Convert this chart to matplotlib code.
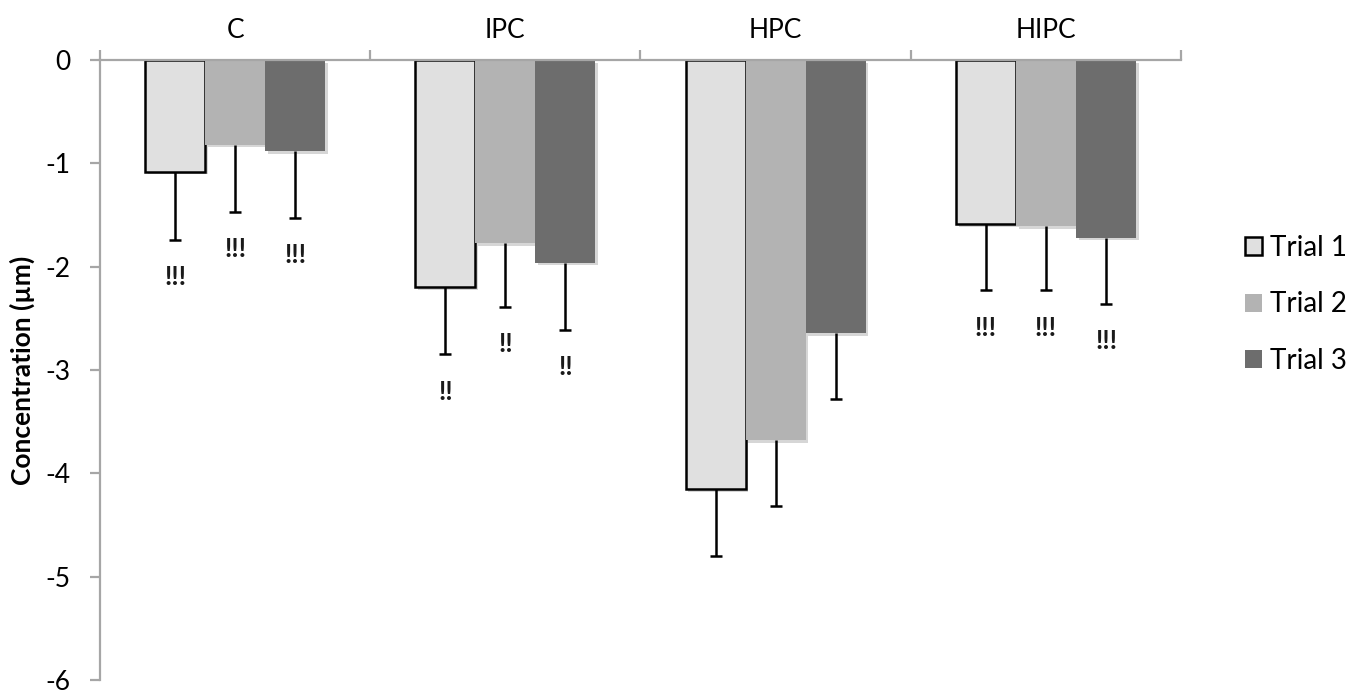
import matplotlib
matplotlib.use("Agg")
import matplotlib.pyplot as plt
import matplotlib.patheffects as pe
from matplotlib.patches import Patch
import numpy as np

plt.rcParams['font.family'] = ['Lato', 'DejaVu Sans']

categories = ["C", "IPC", "HPC", "HIPC"]
series_names = ["Trial 1", "Trial 2", "Trial 3"]
trial1 = [-1.08, -2.20, -4.15, -1.59]
trial2 = [-0.82, -1.77, -3.68, -1.61]
trial3 = [-0.88, -1.96, -2.64, -1.72]
err1 = [0.66, 0.65, 0.65, 0.64]
err2 = [0.65, 0.62, 0.64, 0.62]
err3 = [0.65, 0.65, 0.64, 0.64]
marks1 = ["!!!", "!!", "", "!!!"]
marks2 = ["!!!", "!!", "", "!!!"]
marks3 = ["!!!", "!!", "", "!!!"]
yticks = [0, -1, -2, -3, -4, -5, -6]

values = [trial1, trial2, trial3]
errors = [err1, err2, err3]
marks = [marks1, marks2, marks3]
faces = ["#e0e0e0", "#b3b3b3", "#6d6d6d"]
edges = ["black", "none", "none"]
axis_grey = "#a6a6a6"

fig = plt.figure(figsize=(13.6, 6.95), dpi=100)
ax = fig.add_axes([0.0735, 0.0216, 0.7949, 0.8921])

x = np.arange(1, len(categories) + 1)
width = 2.0 / 9.0
shadow = [pe.SimplePatchShadow(offset=(2, -2), shadow_rgbFace="0.55", alpha=0.35), pe.Normal()]

for i, (vals, errs, mk) in enumerate(zip(values, errors, marks)):
    xs = x + (i - 1) * width
    bars = ax.bar(xs, vals, width=width, color=faces[i], edgecolor=edges[i],
                  linewidth=1.8 if edges[i] != "none" else 0, label=series_names[i], zorder=2)
    for b in bars:
        b.set_path_effects(shadow)
    ends = np.array(vals) - np.array(errs)
    ax.vlines(xs, vals, ends, color="black", linewidth=1.8, zorder=3)
    ax.plot(xs, ends, linestyle="none", marker="_", markersize=9, markeredgewidth=1.8,
            color="black", zorder=3)
    for xv, ev, m in zip(xs, ends, mk):
        if m:
            ax.text(xv, ev - 0.36, m, ha="center", va="center", fontsize=19,
                    fontweight="bold", color="#1a1a1a", zorder=4)

ax.set_xlim(0.5, len(categories) + 0.5)
ax.set_ylim(-6, 0)

for s in ["bottom", "right"]:
    ax.spines[s].set_visible(False)
for s in ["top", "left"]:
    ax.spines[s].set_color(axis_grey)
    ax.spines[s].set_linewidth(1.6)

ax.set_yticks(yticks)
ax.set_yticklabels([str(t) for t in yticks], fontsize=19)
ax.tick_params(axis="y", length=7, width=1.6, color=axis_grey, pad=14)

ax.xaxis.tick_top()
ax.set_xticks(np.arange(0.5, len(categories) + 1, 1.0))
ax.set_xticklabels([])
ax.set_xticks(x, minor=True)
ax.set_xticklabels(categories, minor=True, fontsize=19)
ax.tick_params(axis="x", which="major", length=7, width=1.6, color=axis_grey, direction="out")
ax.tick_params(axis="x", which="minor", length=0, pad=12)

ax.set_ylabel("Concentration (µm)", fontsize=19, fontweight="bold", labelpad=8)

handles = [Patch(facecolor=faces[i], edgecolor=("black" if i == 0 else faces[i]),
                 linewidth=1.8 if i == 0 else 0) for i in range(3)]
fig.legend(handles, series_names, loc="center left", bbox_to_anchor=(0.897, 0.562),
           frameon=False, fontsize=20, handlelength=0.62, handleheight=0.62,
           handletextpad=0.3, labelspacing=1.1)

fig.savefig("out.png", dpi=100)
